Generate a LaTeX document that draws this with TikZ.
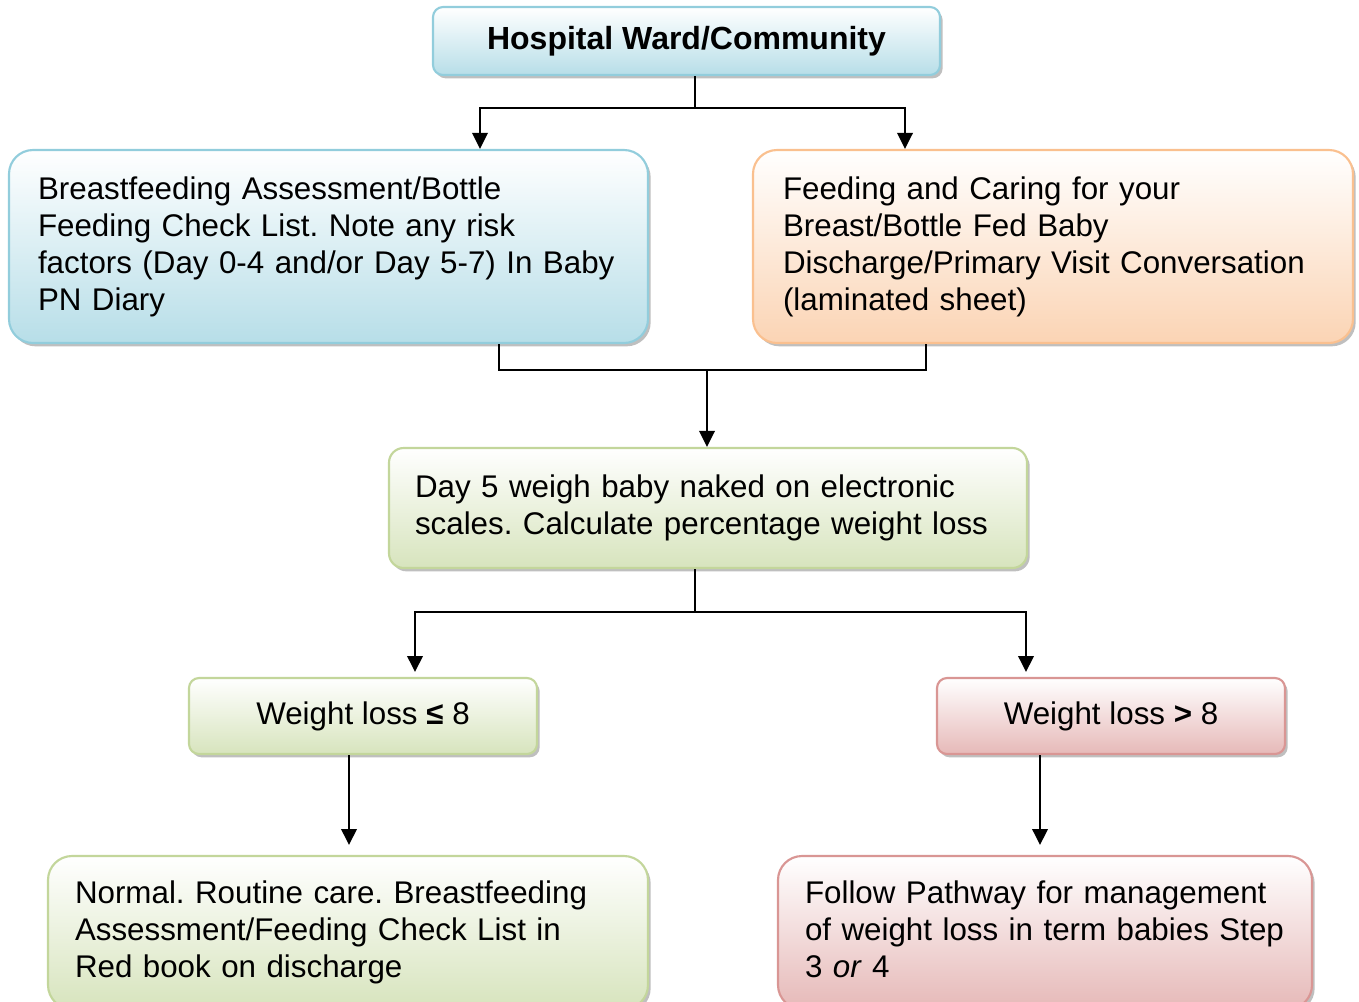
\documentclass[tikz,border=0pt]{standalone}
\usepackage{fontspec}
\setmainfont{Liberation Sans}
\usetikzlibrary{arrows.meta,shadows}
\definecolor{blueF}{HTML}{B7DEE8}
\definecolor{blueD}{HTML}{92CDDC}
\definecolor{orangeF}{HTML}{FBD4B4}
\definecolor{orangeD}{HTML}{FAC08F}
\definecolor{greenF}{HTML}{D7E4BD}
\definecolor{greenD}{HTML}{C3D69B}
\definecolor{redF}{HTML}{E6B9B8}
\definecolor{redD}{HTML}{D99694}
\frenchspacing
\begin{document}
\begin{tikzpicture}[x=0.75pt,y=-0.75pt,
  font=\fontsize{23.5pt}{27.75pt}\selectfont,
  box/.style={line width=1.6pt, shading=axis, top color=white, inner ysep=0pt,
    drop shadow={shadow xshift=2pt, shadow yshift=-2.5pt, fill=black, opacity=0.25}},
  bluebox/.style={box, draw=blueD, bottom color=blueF},
  orangebox/.style={box, draw=orangeD, bottom color=orangeF},
  greenbox/.style={box, draw=greenD, bottom color=greenF},
  redbox/.style={box, draw=redD, bottom color=redF},
  conn/.style={line width=1.9pt},
  arr/.style={conn, -{Triangle[length=12pt,width=11.5pt]}}
]
\useasboundingbox (0,0) rectangle (1359,1001);

\node[bluebox, rounded corners=7.5pt, minimum width=380.25pt, minimum height=51pt, align=center, font=\fontsize{24pt}{27.75pt}\selectfont\bfseries]
  (top) at (686.5,41) {Hospital Ward/Community};

\node[bluebox, rounded corners=18pt, minimum width=479.25pt, minimum height=144.75pt, inner xsep=21.75pt, text width=435.75pt, align=left]
  (left) at (328.5,246.5) {\mbox{Breastfeeding Assessment/Bottle}\\\mbox{Feeding Check List. Note any risk}\\\mbox{factors (Day 0-4 and/or Day 5-7) In Baby}\\\mbox{PN Diary}};

\node[orangebox, rounded corners=18pt, minimum width=450pt, minimum height=144.75pt, inner xsep=22.5pt, text width=405pt, align=left]
  (right) at (1053,246.5) {\mbox{Feeding and Caring for your}\\\mbox{Breast/Bottle Fed Baby}\\\mbox{Discharge/Primary Visit Conversation}\\\mbox{(laminated sheet)}};

\node[greenbox, rounded corners=11pt, minimum width=478.5pt, minimum height=90pt, inner xsep=19.5pt, text width=439.5pt, align=left]
  (mid) at (708,508) {\mbox{Day 5 weigh baby naked on electronic}\\\mbox{scales. Calculate percentage weight loss}};

\node[greenbox, rounded corners=7.5pt, minimum width=261pt, minimum height=57pt, align=center]
  (wl) at (363,716) {Weight loss \textbf{≤} 8};

\node[redbox, rounded corners=7.5pt, minimum width=261pt, minimum height=57pt, align=center]
  (wr) at (1111,716) {Weight loss \textbf{>} 8};

\node[greenbox, rounded corners=18pt, minimum width=450pt, minimum height=114.75pt, inner xsep=20.25pt, text width=409.5pt, align=left]
  (bl) at (348,932.5) {\mbox{Normal. Routine care. Breastfeeding}\\\mbox{Assessment/Feeding Check List in}\\\mbox{Red book on discharge}\vphantom{\"A}};

\node[redbox, rounded corners=18pt, minimum width=400.5pt, minimum height=114.75pt, inner xsep=20.25pt, text width=360pt, align=left]
  (br) at (1045,932.5) {\mbox{Follow Pathway for management}\\\mbox{of weight loss in term babies Step}\\\mbox{3 \textit{or} 4}\vphantom{g}};

% connectors
\coordinate (j1) at (695,108);
\coordinate (xl1) at (480,0);
\coordinate (xr1) at (905,0);
\draw[conn] (top.south -| j1) -- (j1);
\draw[arr] (j1) -| (left.north -| xl1);
\draw[arr] (j1) -| (right.north -| xr1);

\coordinate (j2) at (707,370);
\coordinate (xl2) at (499,0);
\coordinate (xr2) at (926,0);
\draw[conn] (left.south -| xl2) |- (j2) -| (right.south -| xr2);
\draw[arr] (j2) -- (mid.north -| j2);

\coordinate (j3) at (695,612);
\coordinate (xl3) at (415,672);
\coordinate (xr3) at (1026,672);
\draw[conn] (mid.south -| j3) -- (j3);
\draw[arr] (j3) -| (xl3);
\draw[arr] (j3) -| (xr3);

\coordinate (e1) at (349,845);
\coordinate (e2) at (1040,845);
\draw[arr] (wl.south -| e1) -- (e1);
\draw[arr] (wr.south -| e2) -- (e2);
\end{tikzpicture}
\end{document}
